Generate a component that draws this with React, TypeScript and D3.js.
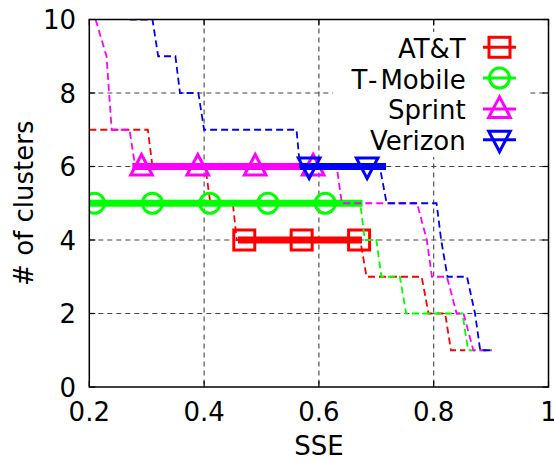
import React from "react";
import * as d3 from "d3";

// Carriers in plotting order
const carriers = ["AT&T", "T-Mobile", "Sprint", "Verizon"];
const colors = ["#ff0000", "#00ff00", "#ff00ff", "#0000ff"];
const markerShapes = ["square", "circle", "triangleUp", "triangleDown"];

// Number of clusters vs. SSE (dashed step curves)
const attSSE = [0.2, 0.302, 0.31, 0.402, 0.411, 0.45, 0.457, 0.672, 0.683, 0.779, 0.791, 0.82, 0.83, 0.855];
const attK = [7, 7, 6, 6, 5, 5, 4, 4, 3, 3, 2, 2, 1, 1];

const tmoSSE = [0.2, 0.672, 0.68, 0.7, 0.709, 0.741, 0.752, 0.85, 0.86, 0.901];
const tmoK = [5, 5, 4, 4, 3, 3, 2, 2, 1, 1];

const sprintSSE = [0.211, 0.23, 0.239, 0.27, 0.28, 0.631, 0.64, 0.771, 0.788, 0.797, 0.823, 0.84, 0.852, 0.869, 0.901];
const sprintK = [10, 9, 7, 7, 6, 6, 5, 5, 4, 3, 3, 2, 2, 1, 1];

const verizonSSE = [0.27, 0.31, 0.32, 0.35, 0.358, 0.39, 0.4, 0.561, 0.567, 0.706, 0.718, 0.805, 0.813, 0.824, 0.858, 0.872, 0.881, 0.901];
const verizonK = [10, 10, 9, 9, 8, 8, 7, 7, 6, 6, 5, 5, 4, 3, 3, 2, 1, 1];

// Selected cluster count and the SSE range over which it holds
const chosenK = [4, 5, 6, 6];
const chosenFrom = [0.459, 0.2, 0.275, 0.567];
const chosenTo = [0.675, 0.676, 0.631, 0.717];
const attMarks = [0.47, 0.57, 0.67];
const tmoMarks = [0.209, 0.31, 0.41, 0.511, 0.611];
const sprintMarks = [0.291, 0.389, 0.489, 0.59];
const verizonMarks = [0.583, 0.684];

// Axis ticks
const xTicks = [0.2, 0.4, 0.6, 0.8, 1];
const xTickLabels = ["0.2", "0.4", "0.6", "0.8", "1"];
const yTicks = [0, 2, 4, 6, 8, 10];

const W = 554;
const H = 462;
const FONT = "DejaVu Sans, sans-serif";

const x = d3.scaleLinear().domain([0.2, 1]).range([89.3, 548.5]);
const y = d3.scaleLinear().domain([0, 10]).range([387, 19.5]);

const curves = [
  { sse: attSSE, k: attK },
  { sse: tmoSSE, k: tmoK },
  { sse: sprintSSE, k: sprintK },
  { sse: verizonSSE, k: verizonK },
];
const marks = [attMarks, tmoMarks, sprintMarks, verizonMarks];

function Marker({ shape, cx, cy, color }: { shape: string; cx: number; cy: number; color: string }) {
  const sw = 3;
  if (shape === "square") {
    return <rect x={cx - 10.5} y={cy - 10} width={21} height={20} fill="none" stroke={color} strokeWidth={sw} />;
  }
  if (shape === "circle") {
    return <circle cx={cx} cy={cy} r={10} fill="none" stroke={color} strokeWidth={sw} />;
  }
  if (shape === "triangleUp") {
    const p = `${cx},${cy - 12} ${cx + 10.8},${cy + 8.5} ${cx - 10.8},${cy + 8.5}`;
    return <polygon points={p} fill="none" stroke={color} strokeWidth={sw} strokeLinejoin="miter" />;
  }
  const p = `${cx},${cy + 12} ${cx + 10.8},${cy - 8.5} ${cx - 10.8},${cy - 8.5}`;
  return <polygon points={p} fill="none" stroke={color} strokeWidth={sw} strokeLinejoin="miter" />;
}

export default function App() {
  const line = d3
    .line<[number, number]>()
    .x((d) => x(d[0]))
    .y((d) => y(d[1]));

  const [x0, x1] = x.range();
  const [yb, yt] = y.range();

  return (
    <svg
      width={W}
      height={H}
      viewBox={`0 0 ${W} ${H}`}
      style={{ position: "absolute", left: 0, top: 0, background: "#fff" }}
      fontFamily={FONT}
    >
      <defs>
        <clipPath id="plot-clip">
          <rect x={x0} y={yt} width={x1 - x0} height={yb - yt} />
        </clipPath>
      </defs>
      <rect x={0} y={0} width={W} height={H} fill="#fff" />

      {/* grid */}
      <g stroke="#444" strokeWidth={1.1} strokeDasharray="5,4">
        {xTicks.slice(1, -1).map((t) => (
          <line key={"gx" + t} x1={x(t)} x2={x(t)} y1={yt} y2={yb} />
        ))}
        {yTicks.slice(1, -1).map((t) => (
          <line key={"gy" + t} x1={x0} x2={x1} y1={y(t)} y2={y(t)} />
        ))}
      </g>

      {/* opaque key background */}
      <rect x={333} y={32} width={197} height={125} fill="#fff" />

      {/* ticks */}
      <g stroke="#000" strokeWidth={1.2}>
        {xTicks.map((t) => (
          <g key={"tx" + t}>
            <line x1={x(t)} x2={x(t)} y1={yb} y2={yb - 6} />
            <line x1={x(t)} x2={x(t)} y1={yt} y2={yt + 6} />
          </g>
        ))}
        {yTicks.map((t) => (
          <g key={"ty" + t}>
            <line x1={x0} x2={x0 + 6} y1={y(t)} y2={y(t)} />
            <line x1={x1} x2={x1 - 6} y1={y(t)} y2={y(t)} />
          </g>
        ))}
      </g>

      {/* data */}
      <g clipPath="url(#plot-clip)">
        {carriers.map((name, i) => {
          const pts = curves[i].sse.map((s, j) => [s, curves[i].k[j]] as [number, number]);
          const band: [number, number][] = [
            [chosenFrom[i], chosenK[i]],
            [chosenTo[i], chosenK[i]],
          ];
          return (
            <g key={name}>
              <path d={line(pts) || ""} fill="none" stroke={colors[i]} strokeWidth={1.8} strokeDasharray="7,4" />
              <path d={line(band) || ""} fill="none" stroke={colors[i]} strokeWidth={7} />
              {marks[i].map((m, j) => (
                <Marker key={j} shape={markerShapes[i]} cx={x(m)} cy={y(chosenK[i])} color={colors[i]} />
              ))}
            </g>
          );
        })}
      </g>

      {/* frame */}
      <rect x={x0} y={yt} width={x1 - x0} height={yb - yt} fill="none" stroke="#000" strokeWidth={1.5} />

      {/* tick labels */}
      <g fontSize={26} fill="#000">
        {xTicks.map((t, i) => (
          <text key={"lx" + t} x={x(t)} y={420.5} textAnchor="middle">
            {xTickLabels[i]}
          </text>
        ))}
        {yTicks.map((t) => (
          <text key={"ly" + t} x={76} y={y(t) + 9.8} textAnchor="end">
            {t}
          </text>
        ))}
      </g>

      {/* axis titles */}
      <text x={(x0 + x1) / 2} y={455} textAnchor="middle" fontSize={26} fill="#000">
        SSE
      </text>
      <text transform={`translate(33.3, ${(yt + yb) / 2}) rotate(-90)`} textAnchor="middle" fontSize={26} fill="#000">
        # of clusters
      </text>

      {/* key */}
      <g fontSize={26} fill="#000">
        {carriers.map((name, i) => {
          const base = 57.7 + i * 30.8;
          const cy = base - 10.4;
          return (
            <g key={"key" + name}>
              {name === "T-Mobile" ? (
                <text x={465.7} y={base} textAnchor="end">
                  T<tspan dx={3}>-</tspan>
                  <tspan dx={3}>Mobile</tspan>
                </text>
              ) : (
                <text x={465.7} y={base} textAnchor="end">
                  {name}
                </text>
              )}
              <line x1={483} x2={516} y1={cy} y2={cy} stroke={colors[i]} strokeWidth={3} />
              <Marker shape={markerShapes[i]} cx={499.5} cy={cy} color={colors[i]} />
            </g>
          );
        })}
      </g>
    </svg>
  );
}
